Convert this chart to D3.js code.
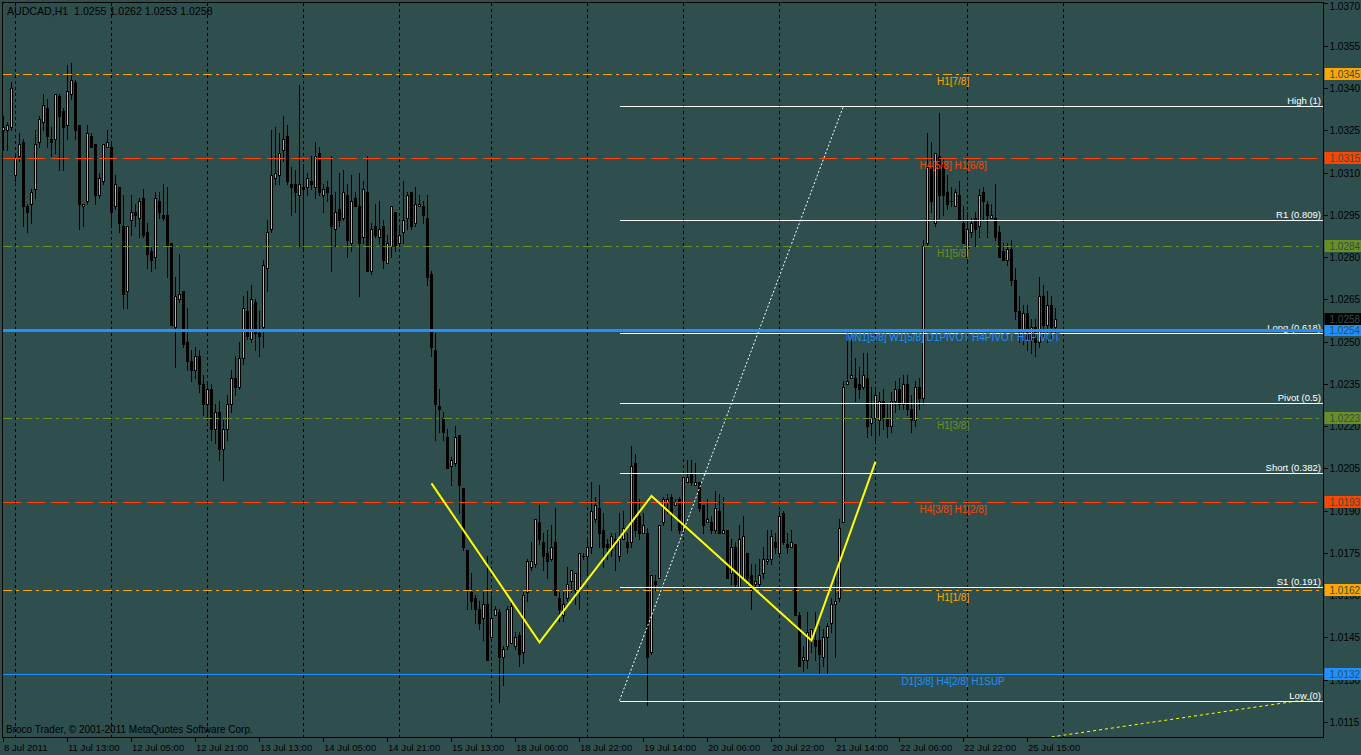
<!DOCTYPE html>
<html><head><meta charset="utf-8">
<script src="https://cdn.jsdelivr.net/npm/d3@7"></script>
<style>
html,body{margin:0;padding:0;background:#2F4F4F;overflow:hidden}
svg{display:block}
text{font-family:"Liberation Sans",Arial,sans-serif}
</style></head><body>
<svg id="c" width="1361" height="755"></svg>
<script>
const opens=[
1.0325,1.0325,1.0326,1.0309,1.0316,1.0321,1.0298,1.0299,1.0304,1.0321,
1.0328,1.0333,1.0322,1.0322,1.0337,1.0332,1.0327,1.0338,1.0342,1.0327,
1.0298,1.0300,1.0323,1.0320,1.0302,1.0307,1.0319,1.0319,1.0298,1.0305,
1.0291,1.0268,1.0293,1.0296,1.0294,1.0301,1.0289,1.0282,1.0280,1.0300,
1.0295,1.0295,1.0285,1.0255,1.0265,1.0268,1.0250,1.0243,1.0240,1.0245,
1.0235,1.0228,1.0233,1.0219,1.0225,1.0212,1.0219,1.0228,1.0237,1.0234,
1.0244,1.0261,1.0251,1.0264,1.0253,1.0255,1.0276,1.0290,1.0308,1.0309,
1.0318,1.0323,1.0306,1.0306,1.0302,1.0305,1.0305,1.0307,1.0305,1.0317,
1.0302,1.0305,1.0302,1.0290,1.0297,1.0294,1.0302,1.0285,1.0301,1.0298,
1.0287,1.0303,1.0275,1.0291,1.0287,1.0291,1.0278,1.0284,1.0296,1.0285,
1.0289,1.0294,1.0303,1.0292,1.0298,1.0298,1.0294,1.0274,1.0247,1.0227,
1.0223,1.0216,1.0206,1.0207,1.0217,1.0198,1.0176,1.0161,1.0159,1.0155,
1.0152,1.0157,1.0145,1.0153,1.0154,1.0138,1.0142,1.0143,1.0142,1.0146,
1.0140,1.0161,1.0170,1.0171,1.0186,1.0179,1.0175,1.0173,1.0179,1.0159,
1.0153,1.0159,1.0165,1.0162,1.0162,1.0174,1.0174,1.0177,1.0187,1.0191,
1.0183,1.0178,1.0176,1.0180,1.0174,1.0180,1.0179,1.0179,1.0207,1.0188,
1.0182,1.0182,1.0140,1.0165,1.0166,1.0186,1.0193,1.0195,1.0192,1.0194,
1.0183,1.0200,1.0203,1.0199,1.0200,1.0192,1.0186,1.0186,1.0183,1.0190,
1.0182,1.0183,1.0168,1.0177,1.0163,1.0166,1.0175,1.0167,1.0164,1.0164,
1.0168,1.0172,1.0173,1.0179,1.0175,1.0189,1.0178,1.0177,1.0178,1.0153,
1.0137,1.0137,1.0144,1.0144,1.0144,1.0138,1.0145,1.0150,1.0157,1.0159,
1.0186,1.0235,1.0237,1.0237,1.0235,1.0234,1.0237,1.0221,1.0223,1.0222,
1.0229,1.0223,1.0220,1.0229,1.0233,1.0228,1.0235,1.0226,1.0222,1.0234,
1.0230,1.0285,1.0312,1.0292,1.0316,1.0313,1.0303,1.0300,1.0298,1.0302,
1.0292,1.0280,1.0289,1.0294,1.0291,1.0303,1.0299,1.0294,1.0294,1.0289,
1.0282,1.0279,1.0283,1.0272,1.0261,1.0254,1.0260,1.0251,1.0255,1.0250,
1.0266,1.0256,1.0263,1.0255];
const highs=[
1.0330,1.0328,1.0342,1.0316,1.0324,1.0322,1.0299,1.0304,1.0325,1.0330,
1.0338,1.0336,1.0326,1.0338,1.0338,1.0333,1.0348,1.0349,1.0343,1.0327,
1.0299,1.0327,1.0324,1.0320,1.0310,1.0320,1.0325,1.0320,1.0309,1.0305,
1.0302,1.0291,1.0302,1.0299,1.0301,1.0304,1.0292,1.0284,1.0303,1.0303,
1.0306,1.0305,1.0285,1.0273,1.0281,1.0268,1.0262,1.0247,1.0248,1.0247,
1.0238,1.0236,1.0235,1.0228,1.0229,1.0222,1.0231,1.0240,1.0245,1.0250,
1.0266,1.0268,1.0270,1.0265,1.0261,1.0279,1.0293,1.0325,1.0326,1.0324,
1.0330,1.0327,1.0312,1.0311,1.0341,1.0313,1.0310,1.0316,1.0321,1.0319,
1.0306,1.0307,1.0316,1.0303,1.0310,1.0311,1.0306,1.0309,1.0303,1.0310,
1.0307,1.0316,1.0292,1.0299,1.0300,1.0293,1.0288,1.0298,1.0296,1.0291,
1.0307,1.0303,1.0303,1.0305,1.0302,1.0300,1.0302,1.0275,1.0253,1.0233,
1.0225,1.0219,1.0209,1.0220,1.0217,1.0198,1.0176,1.0168,1.0160,1.0158,
1.0161,1.0174,1.0160,1.0156,1.0155,1.0142,1.0156,1.0158,1.0147,1.0147,
1.0161,1.0173,1.0179,1.0187,1.0192,1.0182,1.0183,1.0185,1.0191,1.0161,
1.0161,1.0170,1.0169,1.0168,1.0175,1.0175,1.0180,1.0200,1.0195,1.0199,
1.0189,1.0180,1.0182,1.0182,1.0189,1.0190,1.0182,1.0213,1.0210,1.0194,
1.0189,1.0184,1.0167,1.0167,1.0185,1.0195,1.0196,1.0196,1.0194,1.0195,
1.0202,1.0208,1.0208,1.0207,1.0200,1.0192,1.0194,1.0188,1.0197,1.0196,
1.0195,1.0183,1.0180,1.0179,1.0185,1.0188,1.0175,1.0171,1.0171,1.0173,
1.0177,1.0183,1.0183,1.0182,1.0190,1.0190,1.0182,1.0183,1.0178,1.0154,
1.0142,1.0154,1.0148,1.0154,1.0149,1.0148,1.0150,1.0159,1.0167,1.0187,
1.0236,1.0253,1.0251,1.0244,1.0241,1.0246,1.0246,1.0234,1.0234,1.0232,
1.0233,1.0228,1.0232,1.0236,1.0237,1.0238,1.0238,1.0231,1.0236,1.0237,
1.0286,1.0324,1.0321,1.0317,1.0331,1.0315,1.0309,1.0305,1.0304,1.0307,
1.0298,1.0296,1.0294,1.0296,1.0304,1.0305,1.0300,1.0299,1.0306,1.0291,
1.0285,1.0285,1.0286,1.0276,1.0266,1.0263,1.0263,1.0258,1.0258,1.0273,
1.0270,1.0268,1.0266,1.0262];
const lows=[
1.0318,1.0318,1.0325,1.0307,1.0314,1.0291,1.0289,1.0292,1.0301,1.0319,
1.0325,1.0319,1.0316,1.0317,1.0311,1.0311,1.0322,1.0336,1.0322,1.0290,
1.0291,1.0299,1.0319,1.0299,1.0301,1.0306,1.0319,1.0291,1.0297,1.0289,
1.0262,1.0262,1.0288,1.0291,1.0287,1.0287,1.0276,1.0275,1.0276,1.0294,
1.0293,1.0273,1.0256,1.0241,1.0264,1.0248,1.0240,1.0236,1.0237,1.0232,
1.0224,1.0222,1.0215,1.0214,1.0208,1.0201,1.0215,1.0225,1.0231,1.0233,
1.0242,1.0251,1.0250,1.0247,1.0245,1.0248,1.0268,1.0289,1.0306,1.0306,
1.0314,1.0306,1.0295,1.0296,1.0284,1.0282,1.0302,1.0304,1.0301,1.0302,
1.0296,1.0300,1.0275,1.0284,1.0291,1.0293,1.0280,1.0282,1.0298,1.0266,
1.0285,1.0275,1.0274,1.0287,1.0285,1.0276,1.0278,1.0280,1.0282,1.0284,
1.0285,1.0290,1.0290,1.0291,1.0298,1.0292,1.0270,1.0245,1.0215,1.0218,
1.0215,1.0205,1.0199,1.0206,1.0189,1.0176,1.0155,1.0155,1.0150,1.0148,
1.0144,1.0137,1.0145,1.0153,1.0122,1.0128,1.0141,1.0143,1.0141,1.0135,
1.0136,1.0158,1.0169,1.0170,1.0178,1.0169,1.0166,1.0172,1.0160,1.0151,
1.0151,1.0158,1.0161,1.0157,1.0155,1.0173,1.0168,1.0175,1.0186,1.0177,
1.0170,1.0173,1.0174,1.0169,1.0172,1.0180,1.0175,1.0177,1.0181,1.0180,
1.0182,1.0121,1.0139,1.0162,1.0166,1.0185,1.0189,1.0183,1.0192,1.0182,
1.0182,1.0200,1.0199,1.0199,1.0190,1.0182,1.0186,1.0182,1.0182,1.0182,
1.0182,1.0166,1.0164,1.0163,1.0163,1.0166,1.0164,1.0155,1.0163,1.0163,
1.0166,1.0171,1.0171,1.0175,1.0174,1.0178,1.0175,1.0177,1.0153,1.0135,
1.0133,1.0134,1.0140,1.0137,1.0132,1.0135,1.0132,1.0147,1.0138,1.0158,
1.0186,1.0235,1.0237,1.0229,1.0230,1.0233,1.0216,1.0217,1.0215,1.0217,
1.0219,1.0216,1.0218,1.0225,1.0226,1.0226,1.0224,1.0218,1.0220,1.0226,
1.0228,1.0284,1.0296,1.0291,1.0294,1.0295,1.0297,1.0298,1.0298,1.0293,
1.0285,1.0279,1.0287,1.0284,1.0287,1.0293,1.0287,1.0294,1.0286,1.0280,
1.0279,1.0277,1.0270,1.0258,1.0250,1.0249,1.0247,1.0246,1.0245,1.0248,
1.0252,1.0250,1.0251,1.0253];
const closes=[
1.0326,1.0327,1.0340,1.0315,1.0320,1.0298,1.0296,1.0303,1.0320,1.0329,
1.0334,1.0323,1.0321,1.0338,1.0330,1.0326,1.0339,1.0343,1.0325,1.0299,
1.0299,1.0324,1.0319,1.0302,1.0308,1.0320,1.0321,1.0296,1.0306,1.0292,
1.0267,1.0291,1.0296,1.0295,1.0300,1.0288,1.0281,1.0279,1.0301,1.0296,
1.0294,1.0284,1.0256,1.0266,1.0267,1.0249,1.0243,1.0240,1.0245,1.0235,
1.0228,1.0233,1.0219,1.0225,1.0212,1.0219,1.0228,1.0237,1.0234,1.0244,
1.0262,1.0252,1.0265,1.0253,1.0252,1.0277,1.0289,1.0309,1.0310,1.0317,
1.0322,1.0307,1.0305,1.0303,1.0306,1.0304,1.0308,1.0306,1.0316,1.0303,
1.0304,1.0303,1.0291,1.0296,1.0293,1.0303,1.0286,1.0300,1.0298,1.0285,
1.0304,1.0275,1.0290,1.0288,1.0290,1.0279,1.0285,1.0298,1.0284,1.0288,
1.0293,1.0302,1.0291,1.0299,1.0299,1.0295,1.0273,1.0248,1.0228,1.0226,
1.0218,1.0205,1.0208,1.0216,1.0199,1.0177,1.0162,1.0158,1.0155,1.0150,
1.0157,1.0137,1.0152,1.0155,1.0138,1.0141,1.0155,1.0156,1.0145,1.0139,
1.0160,1.0172,1.0172,1.0187,1.0180,1.0174,1.0172,1.0177,1.0160,1.0155,
1.0157,1.0164,1.0169,1.0168,1.0175,1.0174,1.0177,1.0190,1.0192,1.0182,
1.0177,1.0177,1.0181,1.0178,1.0180,1.0184,1.0177,1.0206,1.0183,1.0182,
1.0185,1.0138,1.0167,1.0164,1.0185,1.0194,1.0194,1.0189,1.0193,1.0183,
1.0202,1.0202,1.0200,1.0200,1.0191,1.0185,1.0187,1.0183,1.0191,1.0182,
1.0183,1.0166,1.0177,1.0164,1.0180,1.0181,1.0166,1.0162,1.0165,1.0167,
1.0173,1.0173,1.0181,1.0177,1.0188,1.0179,1.0177,1.0179,1.0153,1.0135,
1.0138,1.0147,1.0148,1.0142,1.0139,1.0145,1.0149,1.0157,1.0158,1.0184,
1.0234,1.0236,1.0238,1.0234,1.0233,1.0238,1.0220,1.0223,1.0231,1.0229,
1.0223,1.0220,1.0229,1.0233,1.0228,1.0235,1.0226,1.0222,1.0234,1.0230,
1.0284,1.0312,1.0300,1.0317,1.0302,1.0302,1.0299,1.0300,1.0303,1.0293,
1.0285,1.0290,1.0292,1.0290,1.0302,1.0300,1.0295,1.0295,1.0287,1.0280,
1.0279,1.0283,1.0272,1.0261,1.0254,1.0260,1.0251,1.0255,1.0250,1.0266,
1.0256,1.0263,1.0255,1.0258];

const priceTicks=[1.0115,1.0130,1.0145,1.0160,1.0175,1.0190,1.0205,1.0220,1.0235,1.0250,1.0265,1.0280,1.0295,1.0310,1.0325,1.0340,1.0355,1.0370];
const timeTickBars=[0,16,32,48,64,80,96,112,128,144,160,176,192,208,224,240,256];
const timeTickLabels=["8 Jul 2011","11 Jul 13:00","12 Jul 05:00","12 Jul 21:00","13 Jul 13:00","14 Jul 05:00","14 Jul 21:00","15 Jul 13:00","18 Jul 06:00","18 Jul 22:00","19 Jul 14:00","20 Jul 06:00","20 Jul 22:00","21 Jul 14:00","22 Jul 06:00","22 Jul 22:00","25 Jul 15:00"];
const gridBars=[3,27,51,75,99,122,146,170,194,218,241,265];

const murreyLevels=[1.0345,1.0315,1.0284,1.0254,1.0223,1.0193,1.0162,1.0132];
const murreyLabels=["H1[7/8]","H4[5/8] H1[6/8]","H1[5/8]","MN1[5/8] W1[5/8] D1PIVOT H4PIVOT H1PIVOT","H1[3/8]","H4[3/8] H1[2/8]","H1[1/8]","D1[3/8] H4[2/8] H1SUP"];
const murreyColors=["#FFA500","#FF4500","#6B8E23","#1E90FF","#6B8E23","#FF4500","#FFA500","#1E90FF"];
const murreyStyles=["dashdot","dash","dashdot","thick","dashdot","dash","dashdot","solid"];
const murreyLabelBar=237.4;

const fibRatios=[1,0.809,0.618,0.5,0.382,0.191,0];
const fibNames=["High","R1","Long","Pivot","Short","S1","Low"];
const fibAnchorBars=[154,210];
const fibAnchorPrices=[1.01226,1.03336];

const zigBars=[107,134,162,202,218];
const zigPrices=[1.01997,1.01433,1.01952,1.01439,1.02074];

const trendBars=[262,327];
const trendPrices=[1.01097,1.01232];

const titleText="AUDCAD,H1  1.0255 1.0262 1.0253 1.0258";
const copyrightText="Broco Trader, \u00A9 2001-2011 MetaQuotes Software Corp.";
const bidPrice=1.0258;

// ---------- drawing ----------
const W=1361,H=755;
const plot={left:2.5,top:2.5,right:1323.5,bottom:737.5};
const svg=d3.select("#c");
const x=d3.scaleLinear().domain([0,1]).range([3.5,7.5]);
const y=d3.scaleLinear().domain([1.0115,1.0355]).range([722,45.7]);

svg.append("rect").attr("width",W).attr("height",H).attr("fill","#2F4F4F");

svg.append("defs").append("clipPath").attr("id","pc").append("rect")
  .attr("x",plot.left).attr("y",plot.top).attr("width",plot.right-plot.left).attr("height",plot.bottom-plot.top);

const g=svg.append("g").attr("clip-path","url(#pc)");

// vertical grid
g.selectAll("line.grid").data(gridBars).enter().append("line")
  .attr("x1",d=>Math.floor(x(d))+0.5).attr("x2",d=>Math.floor(x(d))+0.5)
  .attr("y1",plot.top).attr("y2",plot.bottom)
  .attr("stroke","#000").attr("stroke-width",1).attr("stroke-dasharray","3,3")
  .attr("shape-rendering","crispEdges");

// candles
const bars=opens.map((o,i)=>({i,o,h:Math.max(highs[i],o,closes[i]),l:Math.min(lows[i],o,closes[i]),c:closes[i]}));
const cg=g.append("g").attr("shape-rendering","crispEdges");
bars.forEach(b=>{
  const cx=Math.floor(x(b.i));
  const yh=Math.round(y(b.h)), yl=Math.round(y(b.l));
  cg.append("rect").attr("x",cx).attr("y",yh).attr("width",1).attr("height",Math.max(1,yl-yh+1)).attr("fill","#000");
  const yt=Math.round(y(Math.max(b.o,b.c))), yb=Math.round(y(Math.min(b.o,b.c)));
  cg.append("rect").attr("x",cx-1).attr("y",yt).attr("width",3).attr("height",Math.max(1,yb-yt+1)).attr("fill","#000");
  if(b.c>b.o && yb-yt>=2){
    cg.append("rect").attr("x",cx).attr("y",yt+1).attr("width",1).attr("height",yb-yt-1).attr("fill","#00FFFF");
  }
});

// fibonacci
const fibLow=fibAnchorPrices[0], fibHigh=fibAnchorPrices[1];
const fx0=x(fibAnchorBars[0]);
const fg=g.append("g");
fibRatios.forEach((r,k)=>{
  const p=fibLow+r*(fibHigh-fibLow);
  const yy=Math.round(y(p))+0.5;
  fg.append("line").attr("x1",fx0).attr("x2",plot.right-1).attr("y1",yy).attr("y2",yy)
    .attr("stroke","#fff").attr("stroke-width",1).attr("shape-rendering","crispEdges");
  fg.append("text").attr("x",plot.right-2.5).attr("y",yy-3).attr("text-anchor","end")
    .attr("font-size","9.5px").attr("fill","#fff").text(`${fibNames[k]} (${r})`);
});
fg.append("line")
  .attr("x1",x(fibAnchorBars[0])).attr("y1",y(fibAnchorPrices[0]))
  .attr("x2",x(fibAnchorBars[1])).attr("y2",y(fibAnchorPrices[1]))
  .attr("stroke","#fff").attr("stroke-width",1).attr("stroke-dasharray","2,2");

// murrey lines
const dashes={dashdot:"9,4,3,4",dash:"18,6",thick:null,solid:null};
murreyLevels.forEach((p,k)=>{
  const yy=Math.round(y(p))+0.5;
  const ln=g.append("line").attr("x1",plot.left).attr("x2",plot.right).attr("y1",yy).attr("y2",yy)
    .attr("stroke",murreyColors[k]).attr("stroke-width",murreyStyles[k]==="thick"?3:1)
    .attr("shape-rendering","crispEdges");
  if(dashes[murreyStyles[k]]) ln.attr("stroke-dasharray",dashes[murreyStyles[k]]);
  g.append("text").attr("x",x(murreyLabelBar)).attr("y",yy+10.5).attr("text-anchor","middle")
    .attr("font-size","10px").attr("fill",murreyColors[k]).text(murreyLabels[k]);
});

// zigzag
g.append("path").datum(zigBars.map((b,k)=>[x(b),y(zigPrices[k])]))
  .attr("d",d3.line()).attr("fill","none").attr("stroke","#FFFF00").attr("stroke-width",2);

// yellow dotted trend
g.append("line").attr("x1",x(trendBars[0])).attr("y1",y(trendPrices[0]))
  .attr("x2",x(trendBars[1])).attr("y2",y(trendPrices[1]))
  .attr("stroke","#FFFF00").attr("stroke-width",1).attr("stroke-dasharray","3,3");

// frame
svg.append("rect").attr("x",plot.left).attr("y",plot.top).attr("width",plot.right-plot.left).attr("height",plot.bottom-plot.top)
  .attr("fill","none").attr("stroke","#000").attr("stroke-width",1).attr("shape-rendering","crispEdges");

// right axis
const ax=svg.append("g");
priceTicks.forEach(p=>{
  const yy=Math.round(y(p))+0.5;
  ax.append("line").attr("x1",plot.right).attr("x2",plot.right+4).attr("y1",yy).attr("y2",yy)
    .attr("stroke","#000").attr("shape-rendering","crispEdges");
  ax.append("text").attr("x",plot.right+6).attr("y",Math.max(yy,6)).attr("dy","0.35em")
    .attr("font-size","10px").attr("fill","#000").text(p.toFixed(4));
});
// price boxes
const boxes=murreyLevels.map((p,k)=>({p,c:murreyColors[k]})).concat([{p:bidPrice,c:"#000"}]);
boxes.forEach(b=>{
  const yy=Math.round(y(b.p));
  ax.append("rect").attr("x",plot.right+1).attr("y",yy-6).attr("width",W-plot.right).attr("height",12).attr("fill",b.c);
  ax.append("text").attr("x",plot.right+6).attr("y",yy+0.5).attr("dy","0.35em")
    .attr("font-size","10px").attr("fill","#2F4F4F").text(b.p.toFixed(4));
});

// time axis
timeTickBars.forEach((b,k)=>{
  const xx=Math.floor(x(b))+0.5;
  ax.append("line").attr("x1",xx).attr("x2",xx).attr("y1",plot.bottom).attr("y2",plot.bottom+4)
    .attr("stroke","#000").attr("shape-rendering","crispEdges");
  ax.append("text").attr("x",xx+0.5).attr("y",751).attr("font-size","9.6px").attr("fill","#000").text(timeTickLabels[k]);
});

// title & copyright
svg.append("text").attr("x",7).attr("y",14.5).attr("font-size","10.6px").attr("fill","#000").style("white-space","pre").text(titleText);
svg.append("text").attr("x",6).attr("y",733).attr("font-size","10px").attr("fill","#000").text(copyrightText);
</script>
</body></html>
